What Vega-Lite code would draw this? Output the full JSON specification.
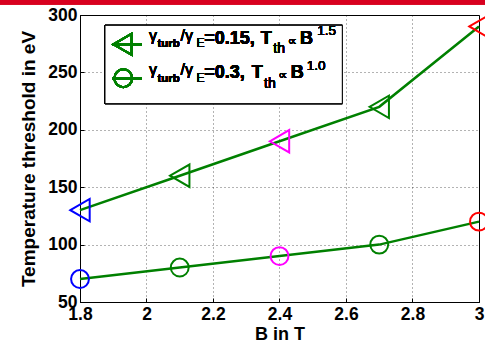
{
  "$schema": "https://vega.github.io/schema/vega-lite/v6.json",
  "autosize": {"type": "none"},
  "width": 399,
  "height": 287,
  "padding": {"left": 80, "top": 15, "right": 6, "bottom": 42},
  "background": "white",
  "config": {
    "font": "Liberation Sans",
    "view": {"stroke": "#000", "strokeWidth": 1}
  },
  "data": {
    "values": [
      {"B": 1.8, "T": 130, "series": "0.15"},
      {"B": 2.1, "T": 160, "series": "0.15"},
      {"B": 2.4, "T": 190, "series": "0.15"},
      {"B": 2.7, "T": 220, "series": "0.15"},
      {"B": 3.0, "T": 290, "series": "0.15"},
      {"B": 1.8, "T": 70, "series": "0.3"},
      {"B": 2.1, "T": 80, "series": "0.3"},
      {"B": 2.4, "T": 90, "series": "0.3"},
      {"B": 2.7, "T": 100, "series": "0.3"},
      {"B": 3.0, "T": 120, "series": "0.3"}
    ]
  },
  "layer": [
    {
      "mark": {"type": "line", "color": "#008000", "strokeWidth": 2.5},
      "encoding": {
        "x": {
          "field": "B", "type": "quantitative",
          "scale": {"domain": [1.8, 3], "nice": false, "zero": false},
          "axis": {
            "title": "B in T", "values": [1.8, 2, 2.2, 2.4, 2.6, 2.8, 3], "format": "~g",
            "labelFont": "Liberation Sans", "labelFontWeight": "bold", "labelFontSize": 17.5, "labelColor": "#000",
            "labelFlush": false, "labelOverlap": false, "labelPadding": 7,
            "ticks": true, "tickSize": -4, "tickColor": "#000",
            "domainColor": "#000",
            "grid": true, "gridColor": "#000", "gridDash": [1, 3], "gridOpacity": 0.6,
            "titleFont": "Liberation Sans", "titleFontWeight": "bold", "titleFontSize": 18, "titleColor": "#000", "titlePadding": 3
          }
        },
        "y": {
          "field": "T", "type": "quantitative",
          "scale": {"domain": [50, 300], "nice": false, "zero": false},
          "axis": {
            "title": "Temperature threshold in eV", "values": [50, 100, 150, 200, 250, 300],
            "labelFont": "Liberation Sans", "labelFontWeight": "bold", "labelFontSize": 17.5, "labelColor": "#000",
            "labelFlush": false, "labelOverlap": false, "labelPadding": 7,
            "ticks": true, "tickSize": -4, "tickColor": "#000",
            "domainColor": "#000",
            "grid": true, "gridColor": "#000", "gridDash": [1, 3], "gridOpacity": 0.6,
            "titleFont": "Liberation Sans", "titleFontWeight": "bold", "titleFontSize": 19, "titleColor": "#000", "titlePadding": 9
          }
        },
        "detail": {"field": "series"}
      }
    },
    {
      "mark": {"type": "point", "filled": false, "strokeWidth": 2, "opacity": 1},
      "encoding": {
        "x": {"field": "B", "type": "quantitative"},
        "y": {"field": "T", "type": "quantitative"},
        "shape": {
          "field": "series", "type": "nominal",
          "scale": {"domain": ["0.15", "0.3"], "range": ["triangle-left", "circle"]},
          "legend": null
        },
        "size": {
          "field": "series", "type": "nominal",
          "scale": {"domain": ["0.15", "0.3"], "range": [500, 320]},
          "legend": null
        },
        "color": {
          "field": "B", "type": "ordinal",
          "scale": {"domain": [1.8, 2.1, 2.4, 2.7, 3], "range": ["#0000ff", "#008000", "#ff00ff", "#008000", "#ff0000"]},
          "legend": null
        }
      }
    },
    {
      "mark": {"type": "rect", "fill": "white", "stroke": "#000", "strokeWidth": 1},
      "encoding": {
        "x": {"datum": 1.8752}, "x2": {"datum": 2.5889},
        "y": {"datum": 291.0}, "y2": {"datum": 222.8}
      }
    },
    {
      "mark": {"type": "rule", "color": "#008000", "strokeWidth": 2.5},
      "encoding": {"x": {"datum": 1.8962}, "x2": {"datum": 1.9865}, "y": {"datum": 274.5}}
    },
    {
      "mark": {"type": "rule", "color": "#008000", "strokeWidth": 2.5},
      "encoding": {"x": {"datum": 1.8962}, "x2": {"datum": 1.9865}, "y": {"datum": 244.9}}
    },
    {
      "mark": {"type": "point", "shape": "triangle-left", "filled": false, "color": "#008000", "size": 450, "strokeWidth": 2, "opacity": 1},
      "encoding": {"x": {"datum": 1.9278}, "y": {"datum": 274.5}}
    },
    {
      "mark": {"type": "point", "shape": "circle", "filled": false, "color": "#008000", "size": 320, "strokeWidth": 2, "opacity": 1},
      "encoding": {"x": {"datum": 1.9302}, "y": {"datum": 244.9}}
    },
    {"mark": {"type": "text", "text": "γ", "align": "left", "baseline": "alphabetic", "dx": 69, "dy": -3, "fontSize": 16, "color": "#000"},
     "encoding": {"x": {"datum": 1.8}, "y": {"datum": 275.1}}},
    {"mark": {"type": "text", "text": "turb", "align": "left", "baseline": "alphabetic", "dx": 77.5, "dy": 3.4, "fontSize": 11.5, "fontWeight": "bold", "color": "#000"},
     "encoding": {"x": {"datum": 1.8}, "y": {"datum": 275.1}}},
    {"mark": {"type": "text", "text": "/γ", "align": "left", "baseline": "alphabetic", "dx": 100.5, "dy": -3, "fontSize": 16, "color": "#000"},
     "encoding": {"x": {"datum": 1.8}, "y": {"datum": 275.1}}},
    {"mark": {"type": "text", "text": "E", "align": "left", "baseline": "alphabetic", "dx": 116.5, "dy": 3.4, "fontSize": 12, "color": "#000"},
     "encoding": {"x": {"datum": 1.8}, "y": {"datum": 275.1}}},
    {"mark": {"type": "text", "text": "=0.15,", "align": "left", "baseline": "alphabetic", "dx": 124.3, "dy": 0, "fontSize": 18, "fontWeight": "bold", "color": "#000"},
     "encoding": {"x": {"datum": 1.8}, "y": {"datum": 275.1}}},
    {"mark": {"type": "text", "text": "T", "align": "left", "baseline": "alphabetic", "dx": 180.7, "dy": 0, "fontSize": 18, "fontWeight": "bold", "color": "#000"},
     "encoding": {"x": {"datum": 1.8}, "y": {"datum": 275.1}}},
    {"mark": {"type": "text", "text": "th", "align": "left", "baseline": "alphabetic", "dx": 193.3, "dy": 9.4, "fontSize": 14, "color": "#000"},
     "encoding": {"x": {"datum": 1.8}, "y": {"datum": 275.1}}},
    {"mark": {"type": "text", "text": "∝", "align": "left", "baseline": "alphabetic", "dx": 207.7, "dy": 1, "fontSize": 13, "font": "DejaVu Sans", "color": "#000"},
     "encoding": {"x": {"datum": 1.8}, "y": {"datum": 275.1}}},
    {"mark": {"type": "text", "text": "B", "align": "left", "baseline": "alphabetic", "dx": 220, "dy": 0, "fontSize": 18, "fontWeight": "bold", "color": "#000"},
     "encoding": {"x": {"datum": 1.8}, "y": {"datum": 275.1}}},
    {"mark": {"type": "text", "text": "1.5", "align": "left", "baseline": "alphabetic", "dx": 237.3, "dy": -9, "fontSize": 13.5, "color": "#000"},
     "encoding": {"x": {"datum": 1.8}, "y": {"datum": 275.1}}},
    {"mark": {"type": "text", "text": "γ", "align": "left", "baseline": "alphabetic", "dx": 69, "dy": -3, "fontSize": 16, "color": "#000"},
     "encoding": {"x": {"datum": 1.8}, "y": {"datum": 245.5}}},
    {"mark": {"type": "text", "text": "turb", "align": "left", "baseline": "alphabetic", "dx": 77.5, "dy": 4, "fontSize": 11.5, "fontWeight": "bold", "color": "#000"},
     "encoding": {"x": {"datum": 1.8}, "y": {"datum": 245.5}}},
    {"mark": {"type": "text", "text": "/γ", "align": "left", "baseline": "alphabetic", "dx": 100.5, "dy": -3, "fontSize": 16, "color": "#000"},
     "encoding": {"x": {"datum": 1.8}, "y": {"datum": 245.5}}},
    {"mark": {"type": "text", "text": "E", "align": "left", "baseline": "alphabetic", "dx": 116.5, "dy": 4, "fontSize": 12, "color": "#000"},
     "encoding": {"x": {"datum": 1.8}, "y": {"datum": 245.5}}},
    {"mark": {"type": "text", "text": "=0.3,", "align": "left", "baseline": "alphabetic", "dx": 124.3, "dy": 0, "fontSize": 18, "fontWeight": "bold", "color": "#000"},
     "encoding": {"x": {"datum": 1.8}, "y": {"datum": 245.5}}},
    {"mark": {"type": "text", "text": "T", "align": "left", "baseline": "alphabetic", "dx": 171.7, "dy": 0, "fontSize": 18, "fontWeight": "bold", "color": "#000"},
     "encoding": {"x": {"datum": 1.8}, "y": {"datum": 245.5}}},
    {"mark": {"type": "text", "text": "th", "align": "left", "baseline": "alphabetic", "dx": 184, "dy": 10, "fontSize": 14, "color": "#000"},
     "encoding": {"x": {"datum": 1.8}, "y": {"datum": 245.5}}},
    {"mark": {"type": "text", "text": "∝", "align": "left", "baseline": "alphabetic", "dx": 198.3, "dy": 1, "fontSize": 13, "font": "DejaVu Sans", "color": "#000"},
     "encoding": {"x": {"datum": 1.8}, "y": {"datum": 245.5}}},
    {"mark": {"type": "text", "text": "B", "align": "left", "baseline": "alphabetic", "dx": 210.7, "dy": 0, "fontSize": 18, "fontWeight": "bold", "color": "#000"},
     "encoding": {"x": {"datum": 1.8}, "y": {"datum": 245.5}}},
    {"mark": {"type": "text", "text": "1.0", "align": "left", "baseline": "alphabetic", "dx": 226.7, "dy": -8, "fontSize": 13.5, "color": "#000"},
     "encoding": {"x": {"datum": 1.8}, "y": {"datum": 245.5}}},
    {
      "mark": {"type": "rect", "color": "#d8001f", "clip": false},
      "encoding": {
        "x": {"datum": 1.5594}, "x2": {"datum": 3.02},
        "y": {"datum": 313}, "y2": {"datum": 309.3}
      }
    }
  ]
}
